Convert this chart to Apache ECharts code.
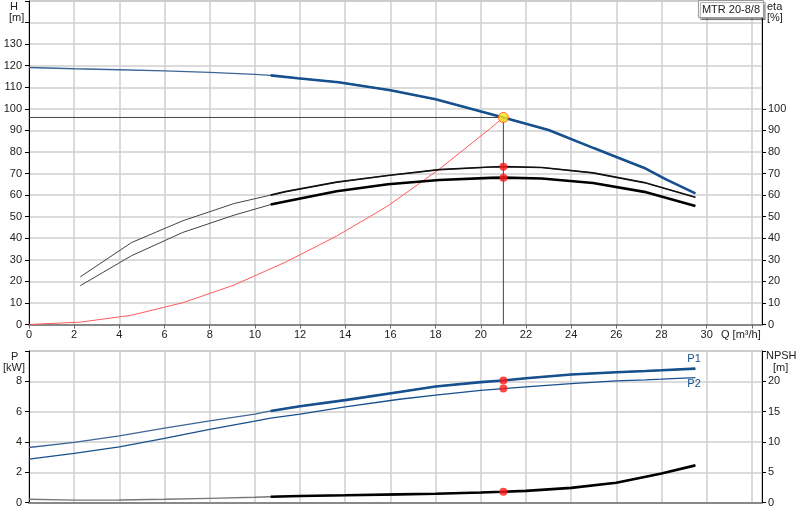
<!doctype html>
<html>
<head>
    <meta charset="utf-8">
    <title>MTR 20-8/8</title>
    <style>
        html, body { margin: 0; padding: 0; background: #fff; }
        #chartEle { width: 800px; height: 520px; }
    </style>
</head>
<body>
<div id="chartEle"></div>
<script src="https://cdn.jsdelivr.net/npm/echarts@6/dist/echarts.min.js"></script>
<script>
    // pump curve H(Q)
    var hQ = [0, 2, 4, 6, 8, 10, 10.7, 11.9, 13.7, 16, 18, 21, 23, 25, 26, 27.3, 28.2, 29.5];
    var hVal = [119.2, 118.6, 118.1, 117.6, 116.9, 116.0, 115.5, 114.2, 112.3, 108.6, 104.4, 96.0, 90.2, 81.8, 77.7, 72.3, 67.3, 60.8];
    // efficiency curves
    var etaQ = [2.27, 4.54, 6.81, 9.08, 10.7, 11.35, 13.62, 15.89, 18.16, 20.43, 21, 22.7, 24.97, 27.24, 29.5];
    var etaPump = [22.1, 38.0, 48.1, 56.1, 60.0, 61.6, 66.0, 69.1, 71.8, 73.0, 73.2, 72.8, 70.3, 65.8, 59.0];
    var etaTotal = [18.0, 31.9, 42.7, 50.7, 55.6, 57.0, 61.8, 65.0, 67.0, 68.0, 68.1, 67.7, 65.6, 61.5, 55.0];
    // system curve
    var sysQ = [0, 2.27, 4.54, 6.81, 9.08, 11.35, 13.62, 15.89, 18.16, 20.43, 21];
    var sysH = [0, 1.1, 4.3, 10.1, 18.3, 28.9, 41.0, 55.0, 72.0, 91.0, 96.0];
    // power and NPSH
    var pQ = [0, 2, 4, 6, 8, 10, 10.7, 12, 14, 16.4, 18, 20, 21, 22, 24, 26, 27.3, 28, 29.5];
    var p1 = [3.64, 3.97, 4.41, 4.91, 5.39, 5.84, 6.05, 6.36, 6.76, 7.30, 7.66, 7.95, 8.06, 8.20, 8.45, 8.60, 8.68, 8.73, 8.84];
    var p2 = [2.87, 3.25, 3.68, 4.24, 4.83, 5.38, 5.58, 5.84, 6.32, 6.82, 7.09, 7.41, 7.52, 7.63, 7.85, 8.03, 8.10, 8.14, 8.25];
    var npsh = [0.56, 0.42, 0.44, 0.56, 0.72, 0.89, 0.99, 1.10, 1.22, 1.38, 1.48, 1.68, 1.80, 1.95, 2.45, 3.30, 4.28, 4.80, 6.15];
    // duty point
    var dutyQ = 21, dutyH = 96;
    var dutyEta = [73.2, 68.1];
    var dutyP = [8.06, 7.52];
    var dutyNpsh = 1.8;
    var rangeStart = 10.7;
    // tick labels
    var etaTicks = [0, 10, 20, 30, 40, 50, 60, 70, 80, 90, 100];

    var blue = '#17508e';
    var font = 'Liberation Sans, Arial, sans-serif';

    function pairs(qs, vs, from) {
        var out = [];
        for (var i = 0; i < qs.length; i++) {
            if (from === undefined || qs[i] >= from) out.push([qs[i], vs[i]]);
        }
        return out;
    }

    function lineSeries(name, x, y, data, color, width, z) {
        return {
            name: name, type: 'line', xAxisIndex: x, yAxisIndex: y,
            data: data, symbol: 'none', smooth: false, z: z || 2,
            lineStyle: {color: color, width: width}, silent: true
        };
    }

    function dots(x, y, data) {
        return {
            type: 'scatter', xAxisIndex: x, yAxisIndex: y, data: data, z: 10,
            symbolSize: 8, itemStyle: {color: '#ff1a1a'}, silent: true
        };
    }

    // P1 / P2 text at line end
    function endText(s, text, dy) {
        s.endLabel = {
            show: true, formatter: text, distance: 0, offset: [-8, dy],
            color: blue, fontSize: 11, fontFamily: font
        };
        return s;
    }

    var chart = echarts.init(document.getElementById('chartEle'));

    var axisLabelStyle = {color: '#222', fontSize: 11, fontFamily: font};
    var split = {show: true, lineStyle: {color: '#cfcfcf', width: 1.5}};

    var option = {
        animation: false,
        backgroundColor: '#fff',
        title: {
            text: 'MTR 20-8/8', right: 36, top: 0,
            padding: [4, 4, 3, 4],
            backgroundColor: '#fff', borderColor: '#999', borderWidth: 1,
            shadowColor: 'rgba(0,0,0,0.35)', shadowOffsetX: 2, shadowOffsetY: 2, shadowBlur: 1,
            textStyle: {fontSize: 11, fontWeight: 'normal', color: '#222', fontFamily: font}
        },
        grid: [
            {left: 29, right: 38, top: 1, bottom: 195.5, show: true, borderColor: '#888', borderWidth: 1},
            {left: 29, right: 38, top: 351, bottom: 17.3, show: true, borderColor: '#888', borderWidth: 1}
        ],
        xAxis: [{
            gridIndex: 0, type: 'value', min: 0, max: 32.45, interval: 2,
            axisLine: {lineStyle: {color: '#888', width: 2}},
            axisTick: {show: true, length: 4, lineStyle: {color: '#666'}},
            axisLabel: Object.assign({
                margin: 5,
                formatter: function (v) { return (v <= 30 && v % 2 === 0) ? String(v) : ''; },
                showMaxLabel: false
            }, axisLabelStyle),
            splitLine: split
        }, {
            gridIndex: 1, type: 'value', min: 0, max: 32.45, interval: 2,
            axisLine: {lineStyle: {color: '#888', width: 2}},
            axisTick: {show: false},
            axisLabel: {show: false},
            splitLine: split
        }],
        yAxis: [{
            gridIndex: 0, type: 'value', position: 'left', min: 0, max: 150, interval: 10,
            axisLine: {show: true, lineStyle: {color: '#000'}},
            axisTick: {show: true, length: 4, lineStyle: {color: '#000'}},
            axisLabel: Object.assign({margin: 7, formatter: function (v) { return v <= 130 ? String(v) : ''; }}, axisLabelStyle),
            splitLine: split
        }, {
            gridIndex: 0, type: 'value', position: 'right', min: 0, max: 150, interval: 10,
            axisLine: {show: true, lineStyle: {color: '#000'}},
            axisTick: {show: true, length: 4, lineStyle: {color: '#000'}, customValues: etaTicks},
            axisLabel: Object.assign({margin: 6, customValues: etaTicks}, axisLabelStyle),
            splitLine: {show: false}
        }, {
            gridIndex: 1, type: 'value', position: 'left', min: 0, max: 10, interval: 2,
            axisLine: {show: true, lineStyle: {color: '#000'}},
            axisTick: {show: true, length: 4, lineStyle: {color: '#000'}},
            axisLabel: Object.assign({margin: 7, formatter: function (v) { return v < 10 ? String(v) : ''; }}, axisLabelStyle),
            splitLine: split
        }, {
            gridIndex: 1, type: 'value', position: 'right', min: 0, max: 25, interval: 5,
            axisLine: {show: true, lineStyle: {color: '#000'}},
            axisTick: {show: true, length: 4, lineStyle: {color: '#000'}},
            axisLabel: Object.assign({margin: 6, formatter: function (v) { return v < 25 ? String(v) : ''; }}, axisLabelStyle),
            splitLine: {show: false}
        }],
        graphic: [
            {type: 'text', left: 10, top: 1, style: {text: 'H', fontSize: 11, fontFamily: font, fill: '#222'}},
            {type: 'text', left: 9, top: 12, style: {text: '[m]', fontSize: 11, fontFamily: font, fill: '#222'}},
            {type: 'text', left: 767, top: 1, style: {text: 'eta', fontSize: 11, fontFamily: font, fill: '#222'}},
            {type: 'text', left: 767, top: 12, style: {text: '[%]', fontSize: 11, fontFamily: font, fill: '#222'}},
            {type: 'text', left: 721, top: 329, style: {text: 'Q [m³/h]', fontSize: 11, fontFamily: font, fill: '#222'}},
            {type: 'text', left: 11, top: 351, style: {text: 'P', fontSize: 11, fontFamily: font, fill: '#222'}},
            {type: 'text', left: 3, top: 362, style: {text: '[kW]', fontSize: 11, fontFamily: font, fill: '#222'}},
            {type: 'text', left: 766, top: 350, style: {text: 'NPSH', fontSize: 11, fontFamily: font, fill: '#222'}},
            {type: 'text', left: 773, top: 362, style: {text: '[m]', fontSize: 11, fontFamily: font, fill: '#222'}}
        ],
        series: [
            // duty point guide lines
            lineSeries('duty', 0, 0, [[0, dutyH], [dutyQ, dutyH], [dutyQ, 0]], '#444', 1, 3),
            lineSeries('system', 0, 0, pairs(sysQ, sysH), '#ff5a5a', 1, 4),
            lineSeries('H', 0, 0, pairs(hQ, hVal), '#3d6596', 1.4, 5),
            lineSeries('H range', 0, 0, pairs(hQ, hVal, rangeStart), blue, 2.6, 6),
            lineSeries('eta pump', 0, 1, pairs(etaQ, etaPump), '#444', 1, 5),
            lineSeries('eta pump range', 0, 1, pairs(etaQ, etaPump, rangeStart), '#111', 1.6, 6),
            lineSeries('eta total', 0, 1, pairs(etaQ, etaTotal), '#444', 1, 5),
            lineSeries('eta total range', 0, 1, pairs(etaQ, etaTotal, rangeStart), '#000', 2.6, 6),
            dots(0, 1, [[dutyQ, dutyEta[0]], [dutyQ, dutyEta[1]]]),
            {
                type: 'scatter', xAxisIndex: 0, yAxisIndex: 0, data: [[dutyQ, dutyH]], z: 11,
                symbolSize: 10, itemStyle: {color: '#ffe817', borderColor: '#ff4a1a', borderWidth: 1}, silent: true
            },
            lineSeries('P1', 1, 2, pairs(pQ, p1), '#3d6596', 1.3, 5),
            endText(lineSeries('P1 range', 1, 2, pairs(pQ, p1, rangeStart), blue, 2.6, 6), 'P1', -10),
            endText(lineSeries('P2', 1, 2, pairs(pQ, p2), blue, 1.3, 5), 'P2', 6),
            lineSeries('NPSH', 1, 3, pairs(pQ, npsh), '#777', 1.4, 5),
            lineSeries('NPSH range', 1, 3, pairs(pQ, npsh, rangeStart), '#000', 2.6, 6),
            dots(1, 2, [[dutyQ, dutyP[0]], [dutyQ, dutyP[1]]]),
            dots(1, 3, [[dutyQ, dutyNpsh]])
        ]
    };
    chart.setOption(option);
</script>
</body>
</html>
